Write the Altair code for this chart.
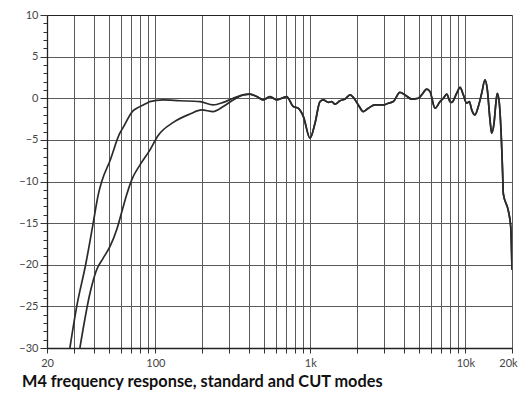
import altair as alt
import pandas as pd

# Standard mode response (Hz, dB)
std_freq = [28.1, 31.1, 35.5, 39.8, 42.8, 45.1, 51, 59, 62, 72, 76, 88, 92, 112, 144, 194,
            236, 274, 318, 369, 408, 451, 497, 549, 607, 703, 776, 836, 902, 995, 1072,
            1154, 1213, 1307, 1374, 1443, 1553, 1675, 1803, 1894, 2039, 2198, 2366, 2613,
            2958, 3184, 3431, 3784, 4083, 4508, 4971, 5225, 5636, 5916, 6373, 6862, 7214,
            7584, 7962, 8167, 8795, 9246, 9707, 10209, 10616, 10995, 11542, 12125, 12750,
            13395, 13866, 14424, 14794, 15313, 15778, 16077, 16566, 17173, 17400, 17583,
            18933, 19621, 20000]
std_db = [-30, -25, -20, -14.9, -11.6, -10, -7.5, -4.2, -3.5, -1.5, -1.2, -0.6, -0.4, -0.2,
          -0.3, -0.4, -0.8, -0.5, 0, 0.4, 0.5, 0.2, -0.2, 0.2, -0.2, 0.2, -1.0, -1.2, -2.2,
          -4.8, -3.0, -0.4, -0.2, -0.5, -0.4, -0.7, -0.3, -0.1, 0.4, 0.1, -0.8, -1.6, -1.2,
          -0.8, -0.8, -0.6, -0.4, 0.7, 0.4, -0.1, 0, 0.4, 1.1, 0.8, -1.2, -0.4, 0, 0.5,
          -0.4, -0.5, 0.6, 1.3, 0.4, -0.6, -0.4, -1.4, -2.0, -1.0, 0.6, 2.2, 1.0, -2.6,
          -4.2, -3.0, -0.4, 0.6, -0.6, -6, -9, -11.5, -13.5, -15.4, -20.6]

# CUT mode low end (joins the standard curve above ~370 Hz)
cut_freq = [32.6, 37.9, 41.8, 46.1, 51, 56.3, 62.1, 65.3, 70.4, 79.6, 92.4, 104, 130.6,
            167, 199, 236, 274, 318]
cut_db = [-30, -23.4, -20.6, -19.2, -17.8, -15.8, -13.0, -11.6, -9.8, -8.0, -6.2, -4.5,
          -2.9, -1.9, -1.4, -1.6, -1.0, -0.2]

x_grid = [20, 30, 40, 50, 60, 70, 80, 90, 100, 200, 300, 400, 500, 600, 700, 800, 900,
          1000, 2000, 3000, 4000, 5000, 6000, 7000, 8000, 9000, 10000, 20000]
x_labels = [20, 100, 1000, 10000, 20000]
y_values = list(range(-30, 11))
title_text = "M4 frequency response, standard and CUT modes"

rows = [{"f": f, "db": d, "mode": "standard"} for f, d in zip(std_freq, std_db)]
cut_all_f = cut_freq + [f for f in std_freq if f >= 369]
cut_all_d = cut_db + [d for f, d in zip(std_freq, std_db) if f >= 369]
rows += [{"f": f, "db": d, "mode": "CUT"} for f, d in zip(cut_all_f, cut_all_d)]
df = pd.DataFrame(rows)

label_list = ",".join(str(v) for v in x_labels)
x_axis = alt.Axis(
    values=x_grid,
    labelExpr=f"indexof([{label_list}], datum.value) >= 0 ? (datum.value >= 1000 ? (datum.value/1000) + 'k' : '' + datum.value) : ''",
    labelOffset={"condition": {"test": "datum.value === 20000", "value": -4}, "value": 0},
    grid=True, gridColor="#5a5a5a", gridWidth=1, gridOpacity=1,
    tickSize=5, tickColor="#333", domainColor="#222", domainWidth=1.3,
    labelFlush=False, labelOverlap=False, labelBound=False,
    labelFont="Lato", labelFontSize=11, labelColor="#444", labelPadding=4,
    title=None,
)
y_axis = alt.Axis(
    values=y_values,
    labelExpr="datum.value % 5 === 0 ? datum.label : ''",
    grid=True,
    gridColor={"condition": {"test": "datum.value === 10", "value": "#222"}, "value": "#5a5a5a"},
    gridOpacity={"condition": {"test": "datum.value % 5 === 0", "value": 1}, "value": 0},
    gridWidth=1,
    tickSize={"condition": {"test": "datum.value % 5 === 0", "value": 7}, "value": 4},
    tickColor="#333", domainColor="#222", domainWidth=1.3,
    labelOverlap=False, labelFlush=False, labelBound=False,
    labelFont="Lato", labelFontSize=11, labelColor="#444", labelPadding=2,
    title=None,
)

chart = alt.Chart(df).mark_line(
    color="#2b2b2b", strokeWidth=1.7, interpolate="monotone", clip=True
).encode(
    x=alt.X("f:Q", scale=alt.Scale(type="log", domain=[20, 20000], nice=False), axis=x_axis),
    y=alt.Y("db:Q", scale=alt.Scale(domain=[-30, 10], nice=False, zero=False), axis=y_axis),
    detail="mode:N",
).properties(
    width=465, height=333,
    title=alt.TitleParams(
        title_text, orient="bottom", anchor="start", frame="group", dx=-25, offset=6,
        font="Lato", fontSize=16.3, fontWeight="bold", color="#111", baseline="top",
    ),
    autosize=alt.AutoSizeParams(type="none"),
    padding={"left": 39, "top": 7, "right": 6, "bottom": 45},
).configure_view(stroke=None)

chart.save("out.html", embed_options={"renderer": "svg", "actions": False})
